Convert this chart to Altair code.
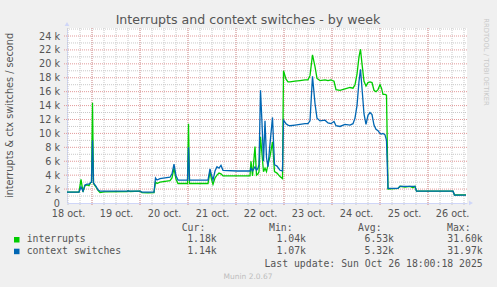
import altair as alt
import pandas as pd

# ---- data (hours since 18 Oct 00:00, values in thousands per second) ----
hours = [11.5, 17.5, 18.5, 19.5, 20.5, 21.5, 22.5, 23.25, 23.75, 24.25, 24.75, 26, 27, 28, 30,
         41.5, 42, 43, 48, 49, 52, 55, 55.75, 56.5, 58, 60.5, 63, 64, 65, 66, 67,
         71.75, 72.25, 72.75, 82, 83, 83.75, 84.5, 85.5, 86.5, 87.5, 88.5, 89.5, 96.5,
         103, 103.5, 104.25, 105.5, 106.25, 107, 107.5, 108.25, 109, 109.75, 110.5, 111.25,
         112, 113, 114.25, 115.25, 116.5, 118, 119.25, 119.75, 121, 122, 123, 125.5, 128,
         130.5, 132, 133, 134.25, 135.5, 136.5, 138, 140.5, 142, 143.5, 145, 146, 148,
         150.5, 153, 154.5, 155.5, 156.5, 157.5, 158.25, 159, 160, 161, 162, 163, 164,
         165, 166, 167, 168, 168.75, 169.5, 170.5, 171.25, 172, 177, 178, 180.5, 183,
         184.5, 185.5, 186.25, 204.5, 205.25, 211]
interrupts = [1.55, 1.55, 3.4, 1.6, 2.5, 2.6, 2.5, 2.9, 3.0, 14.4, 2.8, 2.3, 1.8, 1.5, 1.6,
              1.65, 1.75, 1.65, 1.7, 1.5, 1.45, 1.5, 3.0, 2.8, 3.0, 3.1, 3.2, 3.6, 5.0, 3.4, 2.8,
              2.8, 11.4, 2.8, 2.8, 4.5, 3.4, 2.7, 3.6, 4.0, 4.3, 4.2, 3.9, 3.9,
              3.9, 6.0, 3.9, 8.1, 4.0, 4.2, 4.5, 9.5, 7.0, 4.5, 5.0, 4.5,
              5.5, 6.7, 8.8, 4.5, 4.3, 3.8, 3.5, 19.0, 17.8, 17.4, 17.4, 17.5, 17.6,
              17.7, 17.7, 18.3, 21.3, 19.6, 17.9, 17.6, 17.7, 17.6, 17.7, 17.5, 16.3, 16.2,
              16.4, 16.6, 16.5, 17.0, 18.5, 21.0, 22.1, 20.0, 17.5, 16.8, 17.3, 17.4, 17.3,
              16.2, 16.0, 16.3, 17.0, 16.5, 15.6, 15.6, 15.5, 2.0, 2.1, 2.4, 2.3, 2.4,
              2.2, 2.4, 1.7, 1.7, 1.15, 1.18]
ctx_switches = [1.55, 1.55, 2.3, 1.7, 2.6, 2.7, 2.7, 2.9, 3.0, 9.0, 2.9, 2.4, 1.9, 1.7, 1.7,
                1.7, 1.75, 1.7, 1.7, 1.55, 1.55, 1.55, 3.6, 3.3, 3.5, 3.6, 3.7, 4.2, 5.6, 3.9, 3.3,
                3.3, 8.0, 3.3, 3.3, 4.9, 4.0, 3.3, 4.6, 5.2, 5.0, 5.4, 4.7, 4.6,
                4.6, 5.0, 4.6, 5.2, 4.7, 5.0, 5.5, 16.2, 11.5, 6.0, 11.8, 6.5,
                5.2, 8.5, 12.3, 5.5, 5.3, 4.7, 4.6, 11.9, 11.4, 11.2, 11.1, 11.2, 11.3,
                11.4, 11.4, 11.8, 18.2, 14.3, 12.2, 11.8, 11.9, 11.5, 11.4, 11.7, 11.1, 11.0,
                11.3, 11.2, 11.4, 12.2, 14.0, 17.5, 19.2, 16.5, 12.8, 11.3, 12.6, 13.0, 12.7,
                11.2, 10.6, 10.4, 10.0, 9.9, 10.0, 9.8, 9.0, 2.1, 2.1, 2.4, 2.4, 2.4,
                2.4, 2.4, 1.7, 1.7, 1.15, 1.14]

day_labels = ["18 oct.", "19 oct.", "20 oct.", "21 oct.", "22 oct.",
              "23 oct.", "24 oct.", "25 oct.", "26 oct."]
label_hours = [12, 36, 60, 84, 108, 132, 156, 180, 204]
y_ticks = [0, 2, 4, 6, 8, 10, 12, 14, 16, 18, 20, 22, 24]

legend_names = ["interrupts", "context switches"]
legend_colors = ["#00CC00", "#0066B3"]
cur_vals = ["1.18k", "1.14k"]
min_vals = ["1.04k", "1.07k"]
avg_vals = ["6.53k", "5.32k"]
max_vals = ["31.60k", "31.97k"]

title = "Interrupts and context switches - by week"
y_title = "interrupts & ctx switches / second"
last_update = "Last update: Sun Oct 26 18:00:18 2025"
version = "Munin 2.0.67"
watermark = "RRDTOOL / TOBI OETIKER"

# ---- layout constants ----
W, H = 400, 175
L, T = 67, 28
XDOM = [11.5, 211.5]
YDOM = [0, 25.15]
TEXT = "#555555"

df = pd.DataFrame({"h": hours, "interrupts": interrupts, "ctx": ctx_switches})
xs = alt.Scale(domain=XDOM, nice=False, zero=False)
ys = alt.Scale(domain=YDOM, nice=False, zero=False)

label_expr = "[" + ",".join("'%s'" % s for s in day_labels) + "][round((datum.value-12)/24)]"
xaxis = alt.Axis(values=label_hours, labelExpr=label_expr, ticks=False, grid=False, title=None,
                 domainColor="#CFD6F8", labelFont="DejaVu Sans", labelFontSize=9.7,
                 labelColor=TEXT, labelPadding=5, labelFlush=False, labelOverlap=False)
yaxis = alt.Axis(values=y_ticks, labelExpr="datum.value == 0 ? '0' : datum.value + ' k'",
                 grid=False, title=None, ticks=False, domainColor="#CFD6F8",
                 labelFont="DejaVu Sans", labelFontSize=9.7, labelColor=TEXT, labelPadding=7.5)

minor_x = pd.DataFrame({"g": list(range(12, 211, 6))})
major_x = pd.DataFrame({"g": list(range(24, 211, 24))})
minor_y = pd.DataFrame({"g": list(range(1, 26, 2))})
major_y = pd.DataFrame({"g": list(range(2, 25, 2))})

layers = []
layers.append(alt.Chart(minor_y).mark_rule(color="#C8C8C8", strokeDash=[1, 1], strokeWidth=1).encode(
    y=alt.Y("g:Q", scale=ys, axis=yaxis), x=alt.value(0), x2=alt.value(W)))
layers.append(alt.Chart(minor_x).mark_rule(color="#C8C8C8", strokeDash=[1, 1], strokeWidth=1).encode(
    x=alt.X("g:Q", scale=xs, axis=xaxis), y=alt.value(0), y2=alt.value(H + 2)))
layers.append(alt.Chart(major_y).mark_rule(color="#E29A9A", strokeDash=[1, 1], strokeWidth=1).encode(
    y=alt.Y("g:Q", scale=ys, axis=yaxis), x=alt.value(-3), x2=alt.value(W)))
layers.append(alt.Chart(major_x).mark_rule(color="#E29A9A", strokeDash=[1, 1], strokeWidth=1).encode(
    x=alt.X("g:Q", scale=xs, axis=xaxis), y=alt.value(0), y2=alt.value(H + 3)))

layers.append(alt.Chart(df).mark_line(color="#00CC00", strokeWidth=1.3).encode(
    x=alt.X("h:Q", scale=xs, axis=xaxis), y=alt.Y("interrupts:Q", scale=ys, axis=yaxis)))
layers.append(alt.Chart(df).mark_line(color="#0066B3", strokeWidth=1.3).encode(
    x=alt.X("h:Q", scale=xs, axis=xaxis), y=alt.Y("ctx:Q", scale=ys, axis=yaxis)))

one = pd.DataFrame({"a": [0]})


def txt(s, x, y, align="left", size=9.8, font="DejaVu Sans Mono", color=TEXT, angle=0,
        baseline="alphabetic"):
    return alt.Chart(one).mark_text(text=s, align=align, baseline=baseline, font=font,
                                    fontSize=size, color=color, angle=angle).encode(
        x=alt.value(x - L), y=alt.value(y - T))


# axis arrows
layers.append(alt.Chart(one).mark_point(shape="triangle-up", filled=True, color="#CFD6F8",
                                        size=22, opacity=1).encode(
    x=alt.value(0), y=alt.value(-4)))
layers.append(alt.Chart(one).mark_point(shape="triangle-right", filled=True, color="#CFD6F8",
                                        size=22, opacity=1).encode(
    x=alt.value(W + 4), y=alt.value(H)))

layers.append(txt(title, 248, 24, align="center", size=12.6, font="DejaVu Sans"))
layers.append(txt(y_title, 12.5, 115.5, align="center", size=9.7, font="DejaVu Sans",
                  angle=270))
layers.append(txt(watermark, 484, 62, align="center", size=6.8, font="DejaVu Sans",
                  color="#C8C8C8", angle=90))

# legend
hdr_x = [181.7, 269, 358, 447]
for s, x in zip(["Cur:", "Min:", "Avg:", "Max:"], hdr_x):
    layers.append(txt(s, x, 230.7))
row_y = [242.3, 254.0]
val_x = [216.7, 306, 394, 482.7]
for i in range(2):
    layers.append(alt.Chart(one).mark_rect(color=legend_colors[i]).encode(
        x=alt.value(14 - L), x2=alt.value(19.5 - L),
        y=alt.value(row_y[i] - 5.3 - T), y2=alt.value(row_y[i] + 0.2 - T)))
    layers.append(txt(legend_names[i], 26.7, row_y[i]))
    for vals, x in zip([cur_vals, min_vals, avg_vals, max_vals], val_x):
        layers.append(txt(vals[i], x, row_y[i], align="right"))
layers.append(txt(last_update, 482.7, 266.5, align="right"))
layers.append(txt(version, 248, 278.5, align="center", size=7.5, font="DejaVu Sans",
                  color="#BDBDBD"))

chart = alt.layer(*layers).properties(
    width=W, height=H, background="#F0F0F0",
    padding={"left": L, "top": T, "right": 497 - L - W, "bottom": 287 - T - H},
    autosize=alt.AutoSizeParams(type="none"),
).configure_view(fill="white", stroke=None)

chart.save("out.html", embed_options={"renderer": "svg", "actions": False})
